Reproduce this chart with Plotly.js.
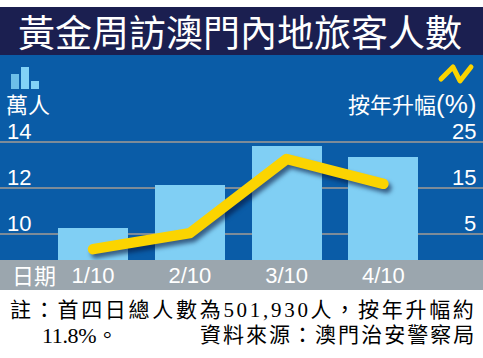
<!DOCTYPE html>
<html><head><meta charset="utf-8">
<script src="https://cdn.plot.ly/plotly-3.0.1.min.js"></script>
<style>html,body{margin:0;padding:0;background:#fff;} #chart{width:483px;height:358px;}</style>
</head><body><div id="chart"></div>
<script>
// ---- data ----
const dates = ['1/10', '2/10', '3/10', '4/10'];
const visitors = [10.26, 12.13, 13.83, 13.35];   // 萬人
const growth = [1.7, 5.2, 21.3, 15.9];           // 按年升幅 %
const leftTicks = [10, 12, 14];
const leftTickText = ['10', '12', '14'];
const rightTicks = [5, 15, 25];
const rightTickText = ['5', '15', '25'];
const titleText = '黃金周訪澳門內地旅客人數';
const leftUnit = '萬人';
const rightUnit = '按年升幅<span style="font-family:Liberation Sans;font-size:26px">(%)</span>';
const xName = '日期';
const note1 = '註：首四日總人數為501,930人，按年升幅約';
const note2a = '11.8%。';
const note2b = '資料來源：澳門治安警察局';

// ---- geometry helpers (pixel -> paper) ----
const W = 483, H = 358, T = 55, B = 98;
const PH = H - T - B; // 205
const px = x => x / W;
const py = y => (H - B - y) / PH;

const sans = 'Liberation Sans, Arial, Noto Sans CJK TC, sans-serif';
const cjk = 'Noto Sans CJK TC, Liberation Sans, sans-serif';
const serif = 'Liberation Serif, Noto Sans CJK TC, serif';

const bars = {
  type: 'bar', x: dates, y: visitors, width: 0.723,
  marker: {color: '#80cff4', line: {width: 0}},
  hoverinfo: 'skip', yaxis: 'y'
};
const line = {
  type: 'scatter', mode: 'lines', x: dates, y: growth, yaxis: 'y2',
  line: {color: '#fbd400', width: 10.5},
  hoverinfo: 'skip'
};

const annotations = [];
leftTicks.forEach((v, i) => annotations.push({
  xref: 'paper', yref: 'y', x: px(6), y: v, xanchor: 'left', yanchor: 'bottom',
  text: leftTickText[i], showarrow: false, yshift: -3, borderpad: 0,
  font: {family: sans, size: 22, color: '#ffffff'}
}));
rightTicks.forEach((v, i) => annotations.push({
  xref: 'paper', yref: 'y2', x: px(477), y: v, xanchor: 'right', yanchor: 'bottom',
  text: rightTickText[i], showarrow: false, yshift: -3, borderpad: 0,
  font: {family: sans, size: 22, color: '#ffffff'}
}));
annotations.push(
  {xref: 'paper', yref: 'paper', x: px(240), y: py(31), xanchor: 'center', yanchor: 'middle',
   text: titleText, showarrow: false, font: {family: cjk, size: 37, color: '#ffffff'}},
  {xref: 'paper', yref: 'paper', x: px(5), y: py(103), xanchor: 'left', yanchor: 'middle',
   text: leftUnit, showarrow: false, borderpad: 0, font: {family: cjk, size: 22, color: '#ffffff'}},
  {xref: 'paper', yref: 'paper', x: px(477), y: py(103), xanchor: 'right', yanchor: 'middle',
   text: rightUnit, showarrow: false, borderpad: 0, font: {family: cjk, size: 22, color: '#ffffff'}},
  {xref: 'paper', yref: 'paper', x: px(10), y: py(274), xanchor: 'left', yanchor: 'middle',
   text: xName, showarrow: false, font: {family: cjk, size: 22, color: '#ffffff'}},
  {xref: 'paper', yref: 'paper', x: px(10), y: py(310), xanchor: 'left', yanchor: 'middle',
   text: note1, showarrow: false, font: {family: serif, size: 21, color: '#000000'}},
  {xref: 'paper', yref: 'paper', x: px(42), y: py(335), xanchor: 'left', yanchor: 'middle',
   text: note2a, showarrow: false, font: {family: serif, size: 22, color: '#000000'}},
  {xref: 'paper', yref: 'paper', x: px(200), y: py(335), xanchor: 'left', yanchor: 'middle',
   text: note2b, showarrow: false, font: {family: serif, size: 21, color: '#000000'}}
);

const shapes = [
  {type: 'rect', xref: 'paper', yref: 'paper', x0: 0, x1: 1, y0: py(55), y1: py(7),
   fillcolor: '#1b1f50', line: {width: 0}, layer: 'below'},
  {type: 'rect', xref: 'paper', yref: 'paper', x0: 0, x1: 1, y0: py(290), y1: py(260),
   fillcolor: '#9ba6ae', line: {width: 0}, layer: 'below'},
  {type: 'rect', xref: 'paper', yref: 'paper', x0: px(11), x1: px(19), y0: py(89), y1: py(74),
   fillcolor: '#6dbfe9', line: {width: 0}},
  {type: 'rect', xref: 'paper', yref: 'paper', x0: px(21), x1: px(29), y0: py(89), y1: py(67),
   fillcolor: '#82d2f6', line: {width: 0}},
  {type: 'rect', xref: 'paper', yref: 'paper', x0: px(31), x1: px(39), y0: py(89), y1: py(81),
   fillcolor: '#82d2f6', line: {width: 0}},
  {type: 'path', xref: 'paper', yref: 'paper',
   path: `M ${px(441)} ${py(79)} L ${px(453)} ${py(67)} L ${px(460)} ${py(81)} L ${px(471)} ${py(67)}`,
   line: {color: '#fbd400', width: 5}}
];

const layout = {
  width: W, height: H,
  margin: {l: 0, r: 0, t: T, b: B, pad: 0},
  paper_bgcolor: '#ffffff', plot_bgcolor: '#0a5ca7',
  showlegend: false,
  xaxis: {type: 'category', range: [-0.961, 4.029], showgrid: false, zeroline: false,
    ticks: '', showline: false, fixedrange: true,
    tickfont: {family: sans, size: 22, color: '#ffffff'}, ticklabelstandoff: 0},
  yaxis: {range: [8.870, 17.783], tickvals: leftTicks, showticklabels: false,
    showgrid: true, gridcolor: '#7d8b98', gridwidth: 2, zeroline: false, showline: false, ticks: ''},
  yaxis2: {range: [-0.652, 43.913], overlaying: 'y', side: 'right', showgrid: false,
    showticklabels: false, zeroline: false, showline: false, ticks: ''},
  bargap: 0,
  annotations: annotations, shapes: shapes
};

// footer text spans (left edge, right edge) in pixels
const footerFit = [[note1, 10, 475], [note2a, 42, 118], [note2b, 200, 475]];

Plotly.newPlot('chart', [bars, line], layout, {staticPlot: true}).then(gd => {
  gd.querySelectorAll('.scatterlayer path.js-line').forEach(p => {
    p.style.strokeLinecap = 'round';
    p.style.strokeLinejoin = 'round';
    p.style.filter = 'drop-shadow(3px 4px 2px rgba(5,20,60,0.6))';
  });
  gd.querySelectorAll('.shapelayer path').forEach(p => {
    p.style.strokeLinecap = 'round';
    p.style.strokeLinejoin = 'round';
  });
  const root = gd.getBoundingClientRect();
  gd.querySelectorAll('.annotation-text').forEach(t => {
    const fit = footerFit.find(f => f[0] === t.textContent);
    if (!fit) return;
    const n = t.textContent.length;
    const w0 = t.getBoundingClientRect().width;
    const sp = ((fit[2] - fit[1]) - w0) / (n - 0.6);
    t.style.letterSpacing = sp.toFixed(2) + 'px';
    const r = t.getBoundingClientRect();
    const dx = fit[1] - (r.left - root.left);
    t.setAttribute('transform', `translate(${dx.toFixed(2)},0)`);
  });
});
</script>
</body></html>
